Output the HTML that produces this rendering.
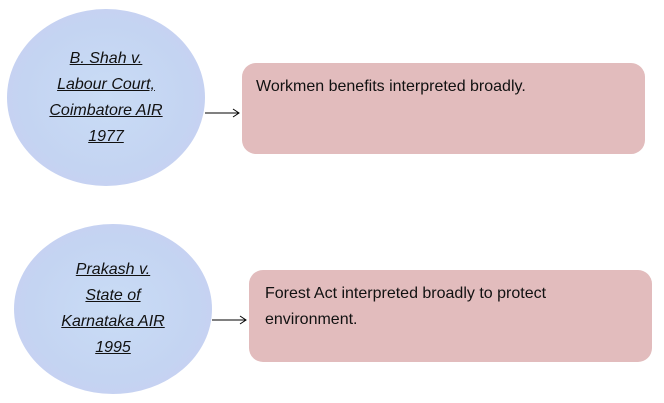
<!DOCTYPE html>
<html><head><style>
body{margin:0;width:664px;height:403px;background:#fff;position:relative;overflow:hidden;font-family:"Liberation Sans",sans-serif;}
.c{position:absolute;border-radius:50%;background:radial-gradient(ellipse at 50% 50%,#c9dcf5 0%,#c4d4f2 60%,#ccccf0 100%);display:flex;align-items:center;justify-content:center;text-align:center;}
.c div{font-style:italic;text-decoration:underline;font-size:16px;line-height:26px;color:#111;}
.b{position:absolute;background:#e2bcbd;border-radius:14px;font-size:16px;color:#111;line-height:26px;}
</style></head><body>
<div class="c" style="left:7px;top:9px;width:198px;height:177px;"><div>B. Shah v.<br>Labour Court,<br>Coimbatore AIR<br>1977</div></div>
<div class="b" style="left:242px;top:63px;width:403px;height:91px;"><div style="padding:11px 14px;">Workmen benefits interpreted broadly.</div></div>
<div class="c" style="left:14px;top:224px;width:198px;height:170px;"><div>Prakash v.<br>State of<br>Karnataka AIR<br>1995</div></div>
<div class="b" style="left:249px;top:270px;width:403px;height:92px;"><div style="padding:11px 16px;">Forest Act interpreted broadly to protect<br>environment.</div></div>
<svg width="664" height="403" style="position:absolute;left:0;top:0">
<g stroke="#000" stroke-width="1" fill="none">
<line x1="205" y1="113" x2="239" y2="113"/><polyline points="233,109 239,113 233,117"/>
<line x1="212" y1="320" x2="246" y2="320"/><polyline points="240,316 246,320 240,324"/>
</g></svg>
</body></html>
